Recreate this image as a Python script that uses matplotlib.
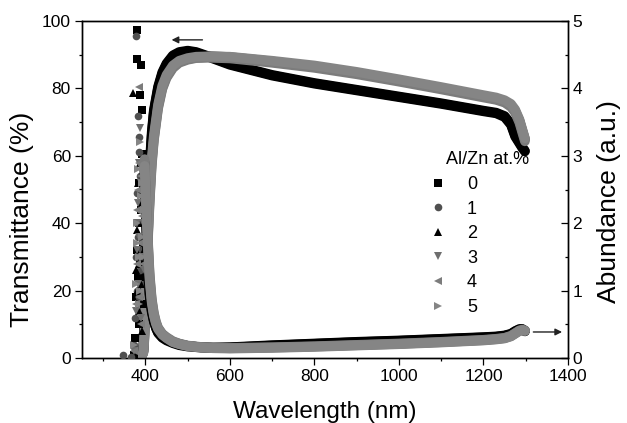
import matplotlib
matplotlib.use("Agg")
import matplotlib.pyplot as plt
from matplotlib.lines import Line2D
from matplotlib.ticker import MultipleLocator

plt.rcParams['font.family'] = ['Liberation Sans', 'DejaVu Sans']

# ---------------- data ----------------
labels = ["0", "1", "2", "3", "4", "5"]
markers = ["s", "o", "^", "v", "<", ">"]
colors = ["#000000", "#505050", "#000000", "#6e6e6e", "#7c7c7c", "#858585"]

# Transmittance (%) – left axis
wl_T = [380, 390, 395, 398, 400, 403, 406, 410, 415, 420, 430, 440, 450, 465, 480, 500,
        520, 550, 600, 700, 800, 900, 1000, 1100, 1200, 1230, 1250, 1265, 1275, 1285, 1292, 1298]
T0 = [0.0, 0.3, 2.0, 12, 21, 34, 46, 57, 67, 73.5, 80.5, 84.8, 87.4, 89.8, 90.8, 91.2,
      90.8, 89.5, 87.2, 84.0, 81.6, 79.6, 77.6, 75.6, 73.4, 72.8, 71.8, 69.5, 66.0, 64.0, 62.5, 61.5]
T1 = [0.0, 0.3, 1.8, 9, 17, 30, 42, 53, 62, 69, 77.5, 82.3, 85.4, 87.8, 88.8, 89.4,
      89.6, 89.6, 89.3, 88.0, 86.5, 84.6, 82.4, 80.1, 77.7, 76.9, 76.1, 74.9, 73.3, 70.5, 67.5, 65.0]
T2 = [0.0, 0.3, 1.8, 11, 20, 33, 45, 56, 66, 73, 80, 84.4, 87.1, 89.5, 90.5, 91.0,
      90.6, 89.3, 87.0, 83.8, 81.4, 79.4, 77.4, 75.4, 73.2, 72.6, 71.5, 69.2, 65.7, 63.7, 62.3, 61.3]
T3 = [0.0, 0.3, 1.5, 7, 13, 25, 36, 47, 58, 65, 74.5, 80.2, 83.4, 86.3, 87.8, 88.7,
      89.1, 89.3, 89.1, 87.9, 86.4, 84.5, 82.3, 80.0, 77.6, 76.8, 76.0, 74.8, 73.2, 70.3, 67.3, 64.8]
T4 = [0.0, 0.3, 1.4, 6, 12, 24, 35, 46, 57, 64.5, 74, 79.8, 83.1, 86.0, 87.6, 88.5,
      89.0, 89.1, 88.9, 87.6, 86.1, 84.2, 82.0, 79.7, 77.3, 76.6, 75.8, 74.5, 72.8, 69.8, 66.8, 64.3]
T5 = [0.0, 0.3, 1.6, 8, 14, 26, 37, 48, 59, 66, 75.2, 80.8, 84.0, 86.8, 88.2, 89.0,
      89.4, 89.5, 89.4, 88.2, 86.8, 84.9, 82.7, 80.4, 78.0, 77.3, 76.5, 75.4, 73.7, 70.8, 67.8, 65.2]
trans = [T0, T1, T2, T3, T4, T5]

# Absorbance (a.u.) – right axis, smooth part
wl_A = [398, 400, 403, 406, 410, 415, 420, 425, 430, 440, 450, 465, 480, 500, 530, 560,
        600, 700, 800, 900, 1000, 1100, 1200, 1230, 1250, 1265, 1275, 1285, 1292, 1298]
A0 = [2.8, 2.4, 1.8, 1.35, 0.95, 0.70, 0.55, 0.45, 0.38, 0.31, 0.27, 0.23, 0.20, 0.18, 0.16, 0.155,
      0.16, 0.19, 0.215, 0.24, 0.26, 0.285, 0.31, 0.32, 0.335, 0.36, 0.40, 0.43, 0.43, 0.40]
A1 = [2.9, 2.5, 1.95, 1.5, 1.08, 0.78, 0.60, 0.49, 0.41, 0.33, 0.29, 0.24, 0.21, 0.18, 0.16, 0.155,
      0.15, 0.16, 0.175, 0.195, 0.215, 0.24, 0.27, 0.285, 0.30, 0.33, 0.37, 0.41, 0.42, 0.41]
A2 = [2.8, 2.35, 1.75, 1.3, 0.92, 0.68, 0.54, 0.44, 0.37, 0.30, 0.26, 0.22, 0.19, 0.17, 0.155, 0.15,
      0.155, 0.185, 0.21, 0.235, 0.255, 0.28, 0.305, 0.315, 0.33, 0.355, 0.395, 0.425, 0.425, 0.395]
A3 = [2.9, 2.6, 2.1, 1.7, 1.2, 0.85, 0.65, 0.52, 0.44, 0.35, 0.30, 0.24, 0.21, 0.18, 0.16, 0.15,
      0.145, 0.155, 0.17, 0.19, 0.21, 0.235, 0.265, 0.28, 0.295, 0.325, 0.365, 0.405, 0.415, 0.405]
A4 = [2.95, 2.65, 2.15, 1.75, 1.25, 0.88, 0.67, 0.54, 0.45, 0.36, 0.31, 0.25, 0.215, 0.185, 0.165, 0.155,
      0.15, 0.16, 0.175, 0.195, 0.215, 0.24, 0.27, 0.285, 0.30, 0.33, 0.37, 0.41, 0.42, 0.41]
A5 = [2.85, 2.55, 2.05, 1.65, 1.15, 0.82, 0.63, 0.51, 0.43, 0.345, 0.295, 0.235, 0.205, 0.175, 0.155, 0.145,
      0.14, 0.15, 0.165, 0.185, 0.205, 0.23, 0.26, 0.275, 0.29, 0.32, 0.36, 0.40, 0.41, 0.40]
absorb = [A0, A1, A2, A3, A4, A5]

# Absorbance – noisy points below the band edge
noise_wl = [
    [372, 376, 378, 379, 380, 381, 382, 384, 385, 386, 387, 388, 389, 390, 391, 392, 393, 394, 395, 396, 397, 398],
    [347, 365, 372, 376, 377, 378, 379, 380, 381, 382, 383, 384, 385, 386, 387, 388, 390, 392, 394, 396],
    [371, 376, 378, 379, 381, 383, 384, 386, 388, 389, 390, 392, 393, 394, 396, 397],
    [374, 378, 379, 380, 382, 383, 384, 386, 387, 389, 390, 391, 393, 395, 397],
    [373, 377, 379, 380, 382, 384, 385, 386, 388, 389, 390, 392, 394, 396],
    [374, 378, 379, 381, 383, 384, 385, 387, 388, 389, 391, 393, 395, 397],
]
noise_A = [
    [0.05, 0.3, 0.9, 4.86, 4.43, 1.6, 1.2, 2.0, 2.6, 0.5, 1.4, 3.9, 2.2, 4.35, 3.68, 3.02, 2.3, 1.7, 2.5, 0.8, 1.2, 2.8],
    [0.05, 0.02, 0.2, 0.6, 1.5, 4.78, 2.0, 1.0, 2.45, 1.8, 3.59, 0.9, 3.06, 3.28, 2.7, 1.3, 2.2, 1.6, 2.9, 1.1],
    [3.93, 0.3, 1.3, 1.0, 1.9, 2.6, 0.7, 1.4, 2.9, 1.1, 2.0, 2.5, 0.4, 1.2, 2.2, 1.6],
    [0.1, 0.7, 2.0, 1.6, 2.3, 1.1, 2.9, 1.8, 3.41, 2.6, 0.6, 1.5, 2.8, 2.0, 1.3],
    [0.1, 0.8, 2.2, 1.4, 2.5, 0.9, 4.02, 2.9, 1.7, 0.5, 2.7, 2.1, 1.4, 2.6],
    [0.2, 1.1, 1.7, 2.0, 2.8, 0.8, 1.5, 3.2, 1.0, 2.4, 1.8, 2.6, 1.5, 2.2],
]

# ---------------- figure ----------------
fig = plt.figure(figsize=(6.27, 4.23), dpi=100)
ax = fig.add_axes([82 / 627, 65 / 423, 486 / 627, 337 / 423])
ax2 = ax.twinx()

lw = 7
for i in range(6):
    ax.plot(wl_T, trans[i], color=colors[i], lw=lw, solid_capstyle='round',
            solid_joinstyle='round', zorder=2 + i)
for i in range(6):
    ax2.plot(wl_A, absorb[i], color=colors[i], lw=lw, solid_capstyle='round',
             solid_joinstyle='round', zorder=2 + i)
    ax2.plot(noise_wl[i], noise_A[i], ls='none', marker=markers[i], color=colors[i],
             markersize=5.5, markeredgewidth=0, zorder=2 + i)

ax.set_xlim(250, 1400)
ax.set_ylim(0, 100)
ax2.set_ylim(0, 5)

ax.set_xticks([400, 600, 800, 1000, 1200, 1400])
ax.xaxis.set_minor_locator(MultipleLocator(100))
ax.yaxis.set_major_locator(MultipleLocator(20))
ax.yaxis.set_minor_locator(MultipleLocator(10))
ax2.yaxis.set_major_locator(MultipleLocator(1))
ax2.yaxis.set_minor_locator(MultipleLocator(0.5))

for a in (ax, ax2):
    for s in a.spines.values():
        s.set_linewidth(1.0)
ax.tick_params(axis='both', which='major', direction='out', length=5, width=0.9,
               labelsize=12.5, pad=3)
ax.tick_params(axis='both', which='minor', direction='out', length=2.5, width=0.9)
ax.tick_params(top=False, right=False, which='both')
ax2.tick_params(axis='y', which='major', direction='in', length=5, width=0.9,
                labelsize=12.5, pad=3)
ax2.tick_params(axis='y', which='minor', direction='in', length=2.5, width=0.9)

ax.set_xlabel("Wavelength (nm)", fontsize=17.5, labelpad=12)
ax.set_ylabel("Transmittance (%)", fontsize=19, labelpad=6)
ax2.set_ylabel("Abundance (a.u.)", fontsize=19, labelpad=11)
ax.yaxis.label.set_y(0.41)
ax2.yaxis.label.set_y(0.465)

# arrows indicating axes
ax.annotate("", xy=(462, 94.4), xytext=(535, 94.4),
            arrowprops=dict(arrowstyle='-|>', color='#222222', lw=1.0,
                            mutation_scale=10, shrinkA=0, shrinkB=0))
ax2.annotate("", xy=(1386, 0.386), xytext=(1318, 0.386),
             arrowprops=dict(arrowstyle='-|>', color='#222222', lw=1.0,
                             mutation_scale=10, shrinkA=0, shrinkB=0))

# legend
handles = [Line2D([], [], ls='none', marker=markers[i], color=colors[i], markersize=5.5,
                  markeredgewidth=0) for i in range(6)]
leg = ax2.legend(handles, labels, loc='upper left',
                 bbox_to_anchor=(429 / 627, (423 - 176) / 423),
                 bbox_transform=fig.transFigure, frameon=False, fontsize=13,
                 handlelength=1.0, handletextpad=1.1, labelspacing=0.42,
                 borderpad=0, borderaxespad=0)
fig.text(488 / 627, (423 - 159) / 423, "Al/Zn at.%", fontsize=13, ha='center', va='center')

fig.savefig("out.png", dpi=100)
